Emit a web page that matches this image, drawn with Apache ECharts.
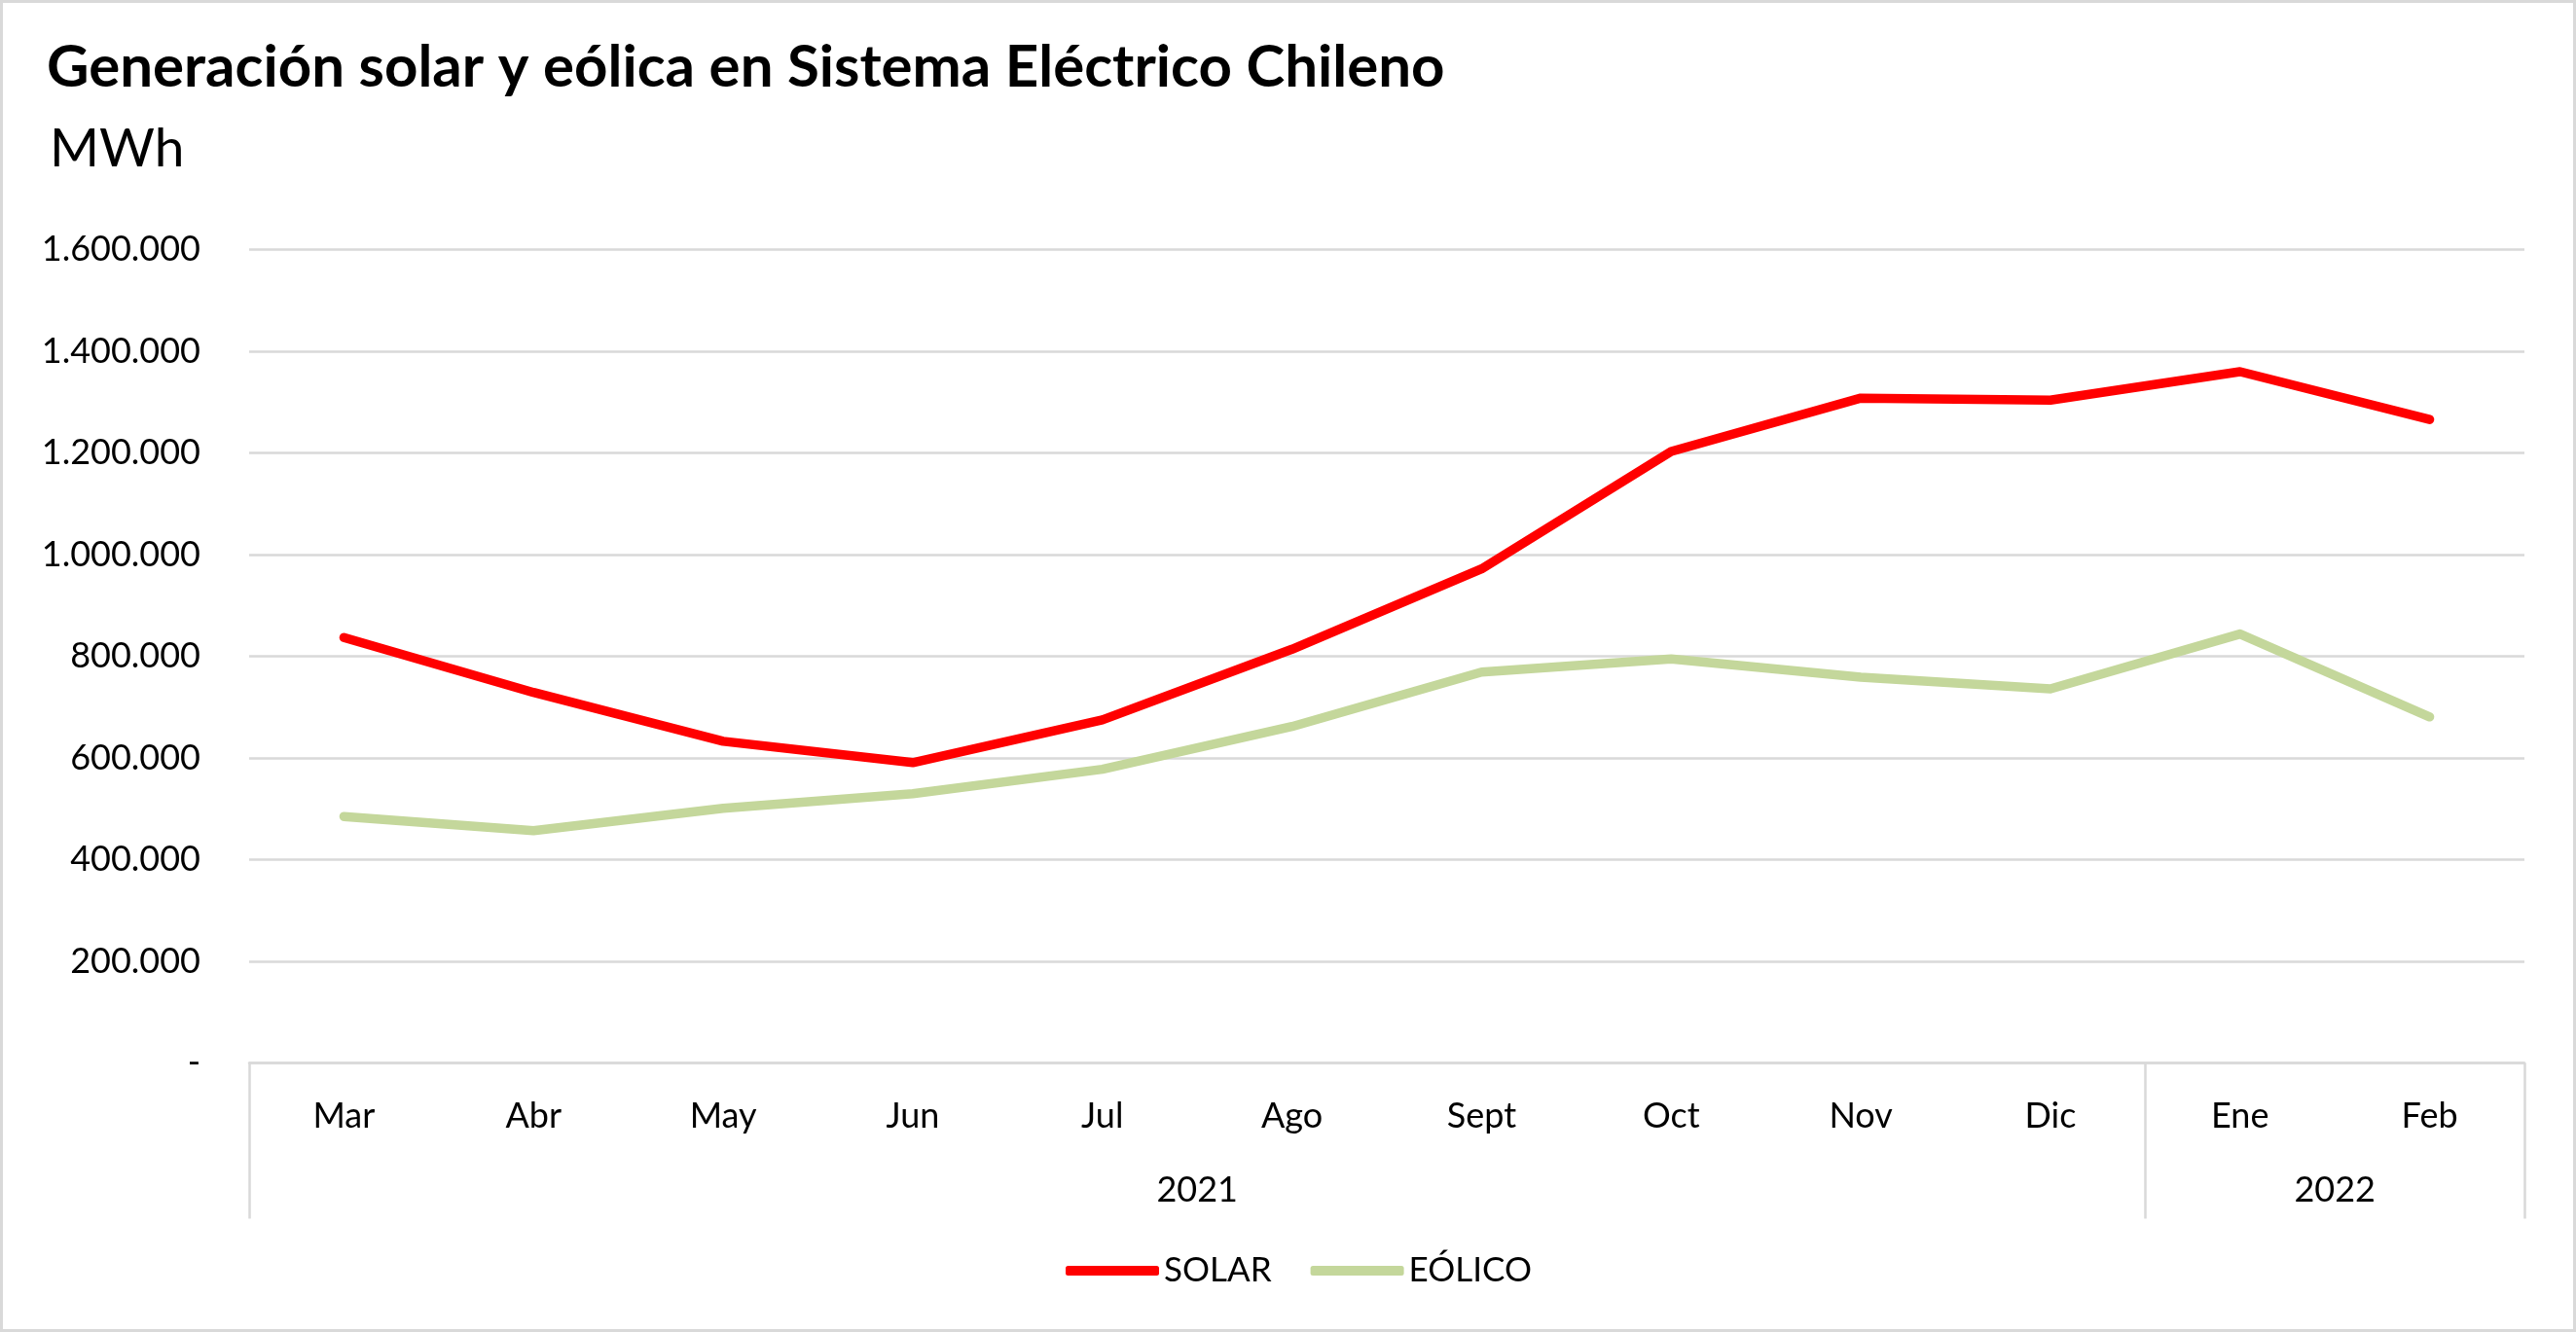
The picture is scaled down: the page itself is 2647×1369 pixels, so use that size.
<!DOCTYPE html>
<html>
<head>
<meta charset="utf-8">
<script src="https://cdn.jsdelivr.net/npm/echarts@6/dist/echarts.min.js"></script>
<style>
  html, body { margin: 0; padding: 0; background: #fff; }
  #chart { width: 2647px; height: 1369px; }
</style>
</head>
<body>
<div id="chart"></div>
<script>
// ---- data ----
const months = ['Mar', 'Abr', 'May', 'Jun', 'Jul', 'Ago', 'Sept', 'Oct', 'Nov', 'Dic', 'Ene', 'Feb'];
const monthYears = ['2021', '2021', '2021', '2021', '2021', '2021', '2021', '2021', '2021', '2021', '2022', '2022'];
const solar = [837000, 729000, 633000, 591000, 675000, 814000, 972000, 1203000, 1308000, 1304000, 1360000, 1266000];
const eolico = [485000, 457000, 501000, 530000, 578000, 662000, 769000, 795000, 759000, 736000, 844000, 681000];
const yTicks = { min: 0, max: 1600000, interval: 200000 };
const titleText = 'Generación solar y eólica en Sistema Eléctrico Chileno';
const unitText = 'MWh';
const seriesNames = ['SOLAR', 'EÓLICO'];

// ---- derive year groups from data ----
const groups = [];
monthYears.forEach((y, i) => {
  const g = groups[groups.length - 1];
  if (g && g.year === y) { g.end = i; } else { groups.push({ year: y, start: i, end: i }); }
});
const yearCenters = groups.map(g => (g.start + g.end) / 2);
const boundaries = [-0.5].concat(groups.map(g => g.end + 0.5));

const FONT = 'Lato';
const GRID = '#d9d9d9';

function fmt(v) {
  if (v === 0) return '-';
  return String(v).replace(/\B(?=(\d{3})+(?!\d))/g, '.');
}

const chart = echarts.init(document.getElementById('chart'), null, { renderer: 'canvas' });
chart.setOption({
  backgroundColor: '#ffffff',
  animation: false,
  title: [
    { text: titleText, left: 43, top: 35,
      textStyle: { fontFamily: FONT, fontWeight: 'bold', fontSize: 60, color: '#000' } },
    { text: unitText, left: 46, top: 121,
      textStyle: { fontFamily: FONT, fontWeight: 'normal', fontSize: 55, color: '#000' } }
  ],
  graphic: [{
    type: 'rect', silent: true,
    shape: { x: 1.5, y: 1.5, width: 2644, height: 1366 },
    style: { fill: 'none', stroke: GRID, lineWidth: 3 }
  }],
  legend: {
    data: seriesNames,
    left: 1090, top: 1280,
    icon: 'roundRect',
    itemWidth: 96, itemHeight: 10, itemGap: 40,
    textStyle: { fontFamily: FONT, fontSize: 35, color: '#000', lineHeight: 42 }
  },
  grid: { left: 256, right: 53, top: 256.6, bottom: 276.4, containLabel: false },
  xAxis: [
    {
      type: 'category', data: months, boundaryGap: true,
      axisLine: { show: true, lineStyle: { color: GRID, width: 2.5 } },
      axisTick: { show: false },
      axisLabel: { margin: 37, fontFamily: FONT, fontSize: 36, color: '#000' },
      splitLine: { show: false }
    },
    {
      type: 'value', min: -0.5, max: 11.5, position: 'bottom',
      axisLine: { show: false },
      axisTick: { show: true, customValues: boundaries, length: 160, lineStyle: { color: GRID, width: 2.5 } },
      axisLabel: {
        show: true, customValues: yearCenters, margin: 113,
        fontFamily: FONT, fontSize: 36, color: '#000',
        formatter: function (v) {
          const k = yearCenters.findIndex(c => Math.abs(c - v) < 1e-6);
          return k >= 0 ? groups[k].year : '';
        }
      },
      splitLine: { show: false }
    }
  ],
  yAxis: {
    type: 'value', min: yTicks.min, max: yTicks.max, interval: yTicks.interval,
    axisLine: { show: false }, axisTick: { show: false },
    axisLabel: { margin: 50, fontFamily: FONT, fontSize: 36, color: '#000', formatter: fmt },
    splitLine: { show: true, lineStyle: { color: GRID, width: 2.5 } }
  },
  series: [
    { name: seriesNames[0], type: 'line', data: solar, symbol: 'none', smooth: false,
      itemStyle: { color: '#ff0000' },
      lineStyle: { color: '#ff0000', width: 9.5, cap: 'round', join: 'round' } },
    { name: seriesNames[1], type: 'line', data: eolico, symbol: 'none', smooth: false,
      itemStyle: { color: '#c4d79b' },
      lineStyle: { color: '#c4d79b', width: 9.5, cap: 'round', join: 'round' } }
  ]
});
</script>
</body>
</html>
